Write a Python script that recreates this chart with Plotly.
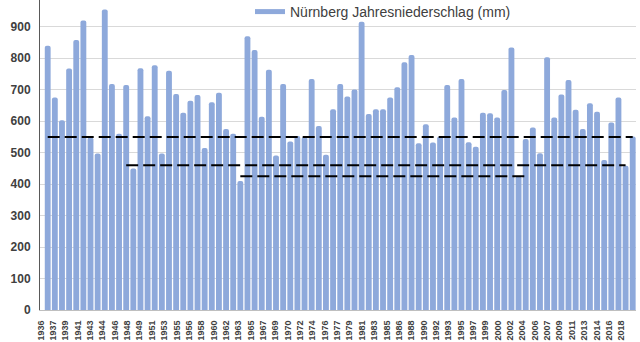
import numpy as np
import plotly.graph_objects as go

# Annual precipitation in Nürnberg, 1936-2018 (mm)
years = list(range(1936, 2019))
precip = [
    840, 675, 603, 767, 858, 920, 548, 497, 955, 718,
    560, 715, 450, 768, 616, 778, 497, 760, 686, 627,
    665, 683, 515, 660, 690, 575, 560, 410, 870, 826,
    614, 763, 491, 718, 535, 553, 550, 734, 585, 493,
    638, 718, 678, 701, 916, 623, 638, 638, 675, 708,
    787, 810, 530, 590, 532, 551, 715, 612, 734, 533,
    519, 627, 625, 612, 699, 834, 425, 543, 580, 498,
    803, 612, 685, 731, 636, 575, 657, 630, 477, 596,
    675, 458, 551,
]

# Horizontal reference levels: (level in mm, first year, last year)
ref_levels = [550, 460, 425]
ref_start = [1936, 1947, 1963]
ref_end = [2018, 2017, 2003]

# Category labels shown along the x axis
tick_labels = [
    "1936", "1937", "1939", "1941", "1943", "1944", "1946", "1948", "1949",
    "1951", "1953", "1955", "1956", "1958", "1960", "1962", "1963", "1965",
    "1967", "1969", "1970", "1972", "1974", "1976", "1977", "1979", "1981",
    "1983", "1985", "1986", "1988", "1990", "1992", "1993", "1995", "1997",
    "1999", "2000", "2002", "2004", "2006", "2007", "2009", "2011", "2013",
    "2014", "2016", "2018",
]

BAR_COLOR = "#8EA9DB"
TEXT_COLOR = "#404040"
FONT = "Liberation Sans"

x_range = [1934.92, 2018.46]
tick_pos = np.linspace(1935.02, 2016.4, len(tick_labels))

fig = go.Figure()

fig.add_trace(go.Bar(
    x=years, y=precip,
    marker=dict(color=BAR_COLOR, line_width=0, cornerradius=3),
    showlegend=False,
    name="Nürnberg Jahresniederschlag (mm)",
))

# legend entry drawn as a thick line
fig.add_trace(go.Scatter(
    x=[None], y=[None], mode="lines",
    line=dict(color=BAR_COLOR, width=5),
    name="Nürnberg Jahresniederschlag (mm)",
))

for lvl, x0, x1 in zip(ref_levels, ref_start, ref_end):
    fig.add_trace(go.Scatter(
        x=[x0, x1], y=[lvl, lvl], mode="lines",
        line=dict(color="black", width=2, dash="12px,5px"),
        showlegend=False, hoverinfo="skip",
    ))

fig.update_layout(
    width=640, height=342,
    margin=dict(l=40, r=4, t=0, b=32, autoexpand=False),
    paper_bgcolor="white", plot_bgcolor="white",
    bargap=0.18,
    font=dict(family=FONT, color=TEXT_COLOR),
    legend=dict(
        xref="container", yref="container",
        x=250 / 640, y=1 - 12 / 342, xanchor="left", yanchor="middle",
        orientation="h", bgcolor="rgba(0,0,0,0)",
        font=dict(size=14, family=FONT, color=TEXT_COLOR),
        itemwidth=30,
    ),
    xaxis=dict(
        range=x_range,
        tickmode="array", tickvals=tick_pos, ticktext=tick_labels,
        tickangle=-90, ticks="",
        tickfont=dict(size=9, family=FONT, color=TEXT_COLOR, weight="bold"),
        ticklabelstandoff=6,
        showgrid=False, zeroline=False,
        showline=True, linecolor="#BFBFBF", linewidth=1,
    ),
    yaxis=dict(
        range=[0, 985], dtick=100, tick0=0,
        ticks="",
        tickfont=dict(size=12, family=FONT, color=TEXT_COLOR, weight="bold"),
        ticklabelstandoff=6,
        showgrid=True, gridcolor="#D9D9D9", gridwidth=1,
        zeroline=False,
        showline=True, linecolor="#595959", linewidth=1,
    ),
)

fig.write_html("out.html")
